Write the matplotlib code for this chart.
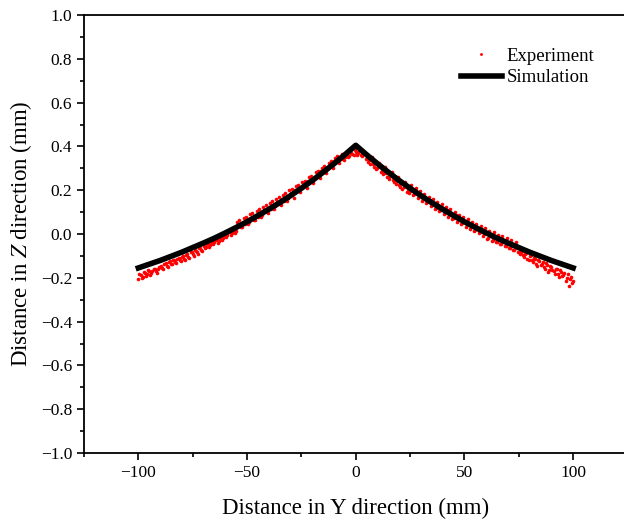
import matplotlib
matplotlib.use("Agg")
import matplotlib.pyplot as plt
import matplotlib.ticker as mticker

plt.rcParams['font.family'] = ['Liberation Serif', 'DejaVu Serif']
plt.rcParams['mathtext.fontset'] = 'stix'

# simulation curve
sim_x = [-100, -95, -90, -85, -80, -75, -70, -65, -60, -55, -50, -45, -40, -35, -30, -25, -20, -15, -10, -5, 0,
         5, 10, 15, 20, 25, 30, 35, 40, 45, 50, 55, 60, 65, 70, 75, 80, 85, 90, 95, 100]
sim_y = [-0.155, -0.138, -0.121, -0.102, -0.083, -0.062, -0.041, -0.019, 0.005, 0.030, 0.056, 0.084, 0.113,
         0.143, 0.175, 0.209, 0.244, 0.282, 0.321, 0.362, 0.405,
         0.362, 0.321, 0.282, 0.244, 0.209, 0.175, 0.143, 0.113, 0.084, 0.056, 0.030, 0.005, -0.019, -0.041,
         -0.062, -0.083, -0.102, -0.121, -0.138, -0.155]

# experiment points, first pass (whole mm)
exp_x_a = [-100, -99, -98, -97, -96, -95, -94, -93, -92, -91, -90, -89, -88, -87, -86, -85, -84, -83, -82, -81,
           -80, -79, -78, -77, -76, -75, -74, -73, -72, -71, -70, -69, -68, -67, -66, -65, -64, -63, -62, -61,
           -60, -59, -58, -57, -56, -55, -54, -53, -52, -51, -50, -49, -48, -47, -46, -45, -44, -43, -42, -41,
           -40, -39, -38, -37, -36, -35, -34, -33, -32, -31, -30, -29, -28, -27, -26, -25, -24, -23, -22, -21,
           -20, -19, -18, -17, -16, -15, -14, -13, -12, -11, -10, -9, -8, -7, -6, -5, -4, -3, -2, -1,
           0, 1, 2, 3, 4, 5, 6, 7, 8, 9, 10, 11, 12, 13, 14, 15, 16, 17, 18, 19,
           20, 21, 22, 23, 24, 25, 26, 27, 28, 29, 30, 31, 32, 33, 34, 35, 36, 37, 38, 39,
           40, 41, 42, 43, 44, 45, 46, 47, 48, 49, 50, 51, 52, 53, 54, 55, 56, 57, 58, 59,
           60, 61, 62, 63, 64, 65, 66, 67, 68, 69, 70, 71, 72, 73, 74, 75, 76, 77, 78, 79,
           80, 81, 82, 83, 84, 85, 86, 87, 88, 89, 90, 91, 92, 93, 94, 95, 96, 97, 98, 99, 100]
exp_y_a = [-0.205, -0.188, -0.196, -0.178, -0.184, -0.171, -0.180, -0.162, -0.170, -0.158,
           -0.150, -0.155, -0.139, -0.146, -0.128, -0.137, -0.121, -0.130, -0.112, -0.121,
           -0.104, -0.112, -0.095, -0.103, -0.083, -0.091, -0.073, -0.080, -0.062, -0.071,
           -0.055, -0.058, -0.041, -0.049, -0.032, -0.038, -0.024, -0.030, -0.012, -0.019,
           -0.004, -0.006, 0.008, 0.003, 0.019, 0.014, 0.038, 0.031, 0.052, 0.044,
           0.061, 0.054, 0.075, 0.066, 0.083, 0.079, 0.097, 0.089, 0.110, 0.101,
           0.121, 0.112, 0.133, 0.127, 0.146, 0.139, 0.158, 0.150, 0.171, 0.163,
           0.188, 0.186, 0.201, 0.197, 0.214, 0.212, 0.229, 0.226, 0.243, 0.240,
           0.256, 0.255, 0.271, 0.270, 0.286, 0.283, 0.301, 0.296, 0.318, 0.311,
           0.333, 0.328, 0.347, 0.341, 0.362, 0.352, 0.366, 0.358, 0.372, 0.362,
           0.376, 0.368, 0.381, 0.356, 0.364, 0.349, 0.336, 0.338, 0.318, 0.322,
           0.300, 0.308, 0.289, 0.283, 0.278, 0.262, 0.266, 0.248, 0.251, 0.240,
           0.226, 0.231, 0.214, 0.218, 0.204, 0.196, 0.205, 0.184, 0.193, 0.172,
           0.180, 0.158, 0.168, 0.146, 0.155, 0.134, 0.142, 0.121, 0.131, 0.108,
           0.119, 0.097, 0.109, 0.086, 0.096, 0.074, 0.085, 0.063, 0.073, 0.051,
           0.060, 0.041, 0.052, 0.030, 0.040, 0.019, 0.028, 0.008, 0.017, -0.002,
           0.006, -0.017, -0.008, -0.026, -0.018, -0.036, -0.027, -0.045, -0.036, -0.054,
           -0.047, -0.063, -0.054, -0.072, -0.064, -0.083, -0.081, -0.098, -0.090, -0.112,
           -0.101, -0.121, -0.108, -0.135, -0.119, -0.142, -0.128, -0.158, -0.140, -0.163,
           -0.152, -0.171, -0.158, -0.184, -0.166, -0.192, -0.177, -0.203, -0.238, -0.196, -0.214]

# experiment points, second pass (half mm)
exp_x_b = [-99.5, -98.5, -97.5, -96.5, -95.5, -94.5, -93.5, -92.5, -91.5, -90.5,
           -89.5, -88.5, -87.5, -86.5, -85.5, -84.5, -83.5, -82.5, -81.5, -80.5,
           -79.5, -78.5, -77.5, -76.5, -75.5, -74.5, -73.5, -72.5, -71.5, -70.5,
           -69.5, -68.5, -67.5, -66.5, -65.5, -64.5, -63.5, -62.5, -61.5, -60.5,
           -59.5, -58.5, -57.5, -56.5, -55.5, -54.5, -53.5, -52.5, -51.5, -50.5,
           -49.5, -48.5, -47.5, -46.5, -45.5, -44.5, -43.5, -42.5, -41.5, -40.5,
           -39.5, -38.5, -37.5, -36.5, -35.5, -34.5, -33.5, -32.5, -31.5, -30.5,
           -29.5, -28.5, -27.5, -26.5, -25.5, -24.5, -23.5, -22.5, -21.5, -20.5,
           -19.5, -18.5, -17.5, -16.5, -15.5, -14.5, -13.5, -12.5, -11.5, -10.5,
           -9.5, -8.5, -7.5, -6.5, -5.5, -4.5, -3.5, -2.5, -1.5, -0.5,
           0.5, 1.5, 2.5, 3.5, 4.5, 5.5, 6.5, 7.5, 8.5, 9.5,
           10.5, 11.5, 12.5, 13.5, 14.5, 15.5, 16.5, 17.5, 18.5, 19.5,
           20.5, 21.5, 22.5, 23.5, 24.5, 25.5, 26.5, 27.5, 28.5, 29.5,
           30.5, 31.5, 32.5, 33.5, 34.5, 35.5, 36.5, 37.5, 38.5, 39.5,
           40.5, 41.5, 42.5, 43.5, 44.5, 45.5, 46.5, 47.5, 48.5, 49.5,
           50.5, 51.5, 52.5, 53.5, 54.5, 55.5, 56.5, 57.5, 58.5, 59.5,
           60.5, 61.5, 62.5, 63.5, 64.5, 65.5, 66.5, 67.5, 68.5, 69.5,
           70.5, 71.5, 72.5, 73.5, 74.5, 75.5, 76.5, 77.5, 78.5, 79.5,
           80.5, 81.5, 82.5, 83.5, 84.5, 85.5, 86.5, 87.5, 88.5, 89.5,
           90.5, 91.5, 92.5, 93.5, 94.5, 95.5, 96.5, 97.5, 98.5, 99.5]
exp_y_b = [-0.182, -0.201, -0.172, -0.193, -0.166, -0.186, -0.168, -0.159, -0.176, -0.149,
           -0.144, -0.158, -0.131, -0.150, -0.125, -0.139, -0.118, -0.133, -0.108, -0.124,
           -0.099, -0.118, -0.092, -0.109, -0.084, -0.099, -0.078, -0.092, -0.066, -0.079,
           -0.062, -0.046, -0.060, -0.035, -0.047, -0.026, -0.039, -0.016, -0.028, -0.006,
           -0.015, 0.009, -0.004, 0.014, 0.006, 0.055, 0.062, 0.030, 0.072, 0.078,
           0.044, 0.090, 0.094, 0.062, 0.105, 0.112, 0.078, 0.125, 0.131, 0.095,
           0.141, 0.150, 0.113, 0.160, 0.167, 0.131, 0.178, 0.186, 0.150, 0.199,
           0.205, 0.163, 0.218, 0.224, 0.190, 0.238, 0.244, 0.210, 0.259, 0.266,
           0.232, 0.281, 0.289, 0.254, 0.302, 0.311, 0.278, 0.326, 0.333, 0.300,
           0.346, 0.354, 0.325, 0.365, 0.340, 0.372, 0.351, 0.379, 0.366, 0.385,
           0.359, 0.377, 0.362, 0.370, 0.344, 0.330, 0.318, 0.352, 0.305, 0.297,
           0.326, 0.283, 0.275, 0.305, 0.262, 0.250, 0.282, 0.236, 0.228, 0.258,
           0.214, 0.207, 0.236, 0.193, 0.188, 0.224, 0.180, 0.210, 0.166, 0.196,
           0.152, 0.184, 0.140, 0.171, 0.127, 0.158, 0.115, 0.147, 0.103, 0.135,
           0.091, 0.123, 0.079, 0.112, 0.068, 0.100, 0.056, 0.089, 0.045, 0.078,
           0.034, 0.067, 0.024, 0.056, 0.013, 0.046, 0.003, 0.036, -0.008, 0.026,
           -0.022, 0.014, -0.030, 0.008, -0.038, -0.004, -0.047, -0.009, -0.056, -0.020,
           -0.066, -0.026, -0.074, -0.037, -0.082, -0.092, -0.078, -0.104, -0.089, -0.117,
           -0.096, -0.128, -0.112, -0.146, -0.124, -0.136, -0.151, -0.133, -0.172, -0.146,
           -0.165, -0.181, -0.162, -0.198, -0.174, -0.187, -0.213, -0.182, -0.204, -0.222]

fig = plt.figure(figsize=(6.24, 5.22), dpi=100)
ax = fig.add_axes([84 / 624, 69 / 522, 543.5 / 624, 438 / 522])

ax.plot(exp_x_a + exp_x_b, exp_y_a + exp_y_b, 'o', color='red', markersize=2.6, markeredgewidth=0,
        label='Experiment', zorder=3)
ax.plot(sim_x, sim_y, '-', color='black', linewidth=4.0, label='Simulation', zorder=4)

ax.set_xlim(-125, 125)
ax.set_ylim(-1.0, 1.0)
ax.xaxis.set_major_locator(mticker.MultipleLocator(50))
ax.xaxis.set_minor_locator(mticker.MultipleLocator(25))
ax.yaxis.set_major_locator(mticker.MultipleLocator(0.2))
ax.yaxis.set_minor_locator(mticker.MultipleLocator(0.1))
ax.yaxis.set_major_formatter(mticker.FuncFormatter(lambda v, p: f"{v:.1f}".replace('-', '\u2212')))
ax.tick_params(which='major', direction='out', length=5, width=1.2, labelsize=12.5)
ax.tick_params(which='minor', direction='out', length=3, width=1.2)
for s in ax.spines.values():
    s.set_linewidth(1.3)

ax.set_xlabel('Distance in Y direction (mm)', fontsize=16.5, labelpad=12)
ax.set_ylabel(r'Distance in $Z$ direction (mm)', fontsize=16.5, labelpad=5)

ax.legend(loc='upper left', bbox_to_anchor=(0.738, 0.909), bbox_transform=fig.transFigure,
          frameon=False, borderpad=0, borderaxespad=0, handlelength=2.2,
          handletextpad=0.27, labelspacing=0.25, fontsize=13.5, markerscale=0.8)

fig.savefig('out.png', dpi=100)
